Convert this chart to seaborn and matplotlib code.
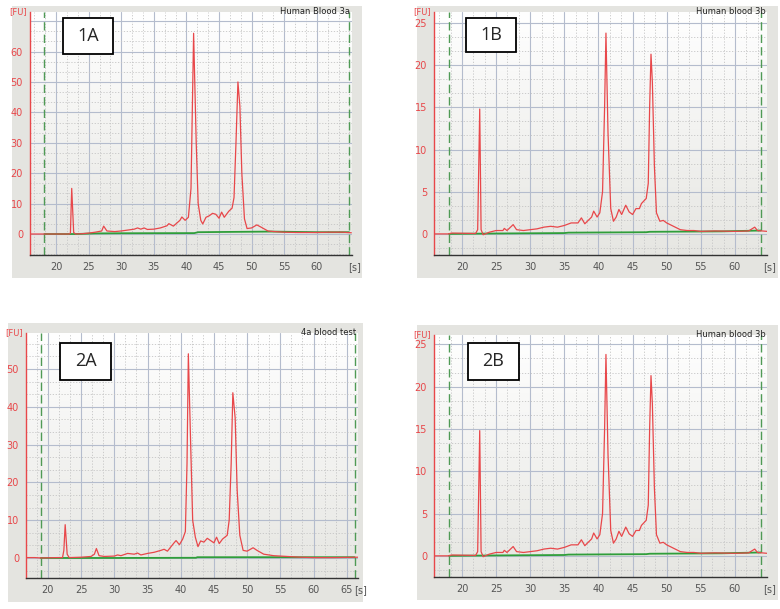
import numpy as np
import pandas as pd
import matplotlib
matplotlib.use("Agg")
import matplotlib.pyplot as plt
from matplotlib.patches import Rectangle
from matplotlib.ticker import MultipleLocator
import seaborn as sns

# ---- data ----
# 1A  (Human Blood 3a)
time_1a = [16.0, 18, 20, 22, 22.2, 22.4, 22.7, 23.0, 24, 25, 26, 27, 27.3, 27.8, 29, 30, 31, 32,
           32.5, 33, 33.5, 34, 35, 36, 37, 37.3, 38, 39, 39.3, 39.8, 40.3, 40.7, 41.1, 41.5, 41.8,
           42.2, 42.5, 43, 43.5, 44, 44.5, 45, 45.4, 45.8, 46.5, 47, 47.3, 47.6, 47.9, 48.2, 48.5,
           48.9, 49.3, 50, 50.8, 51.5, 52.5, 53.5, 55, 57, 60, 62, 64, 65.3]
fu_1a = [0.0, 0.0, 0.0, 0.0, 0.3, 15.0, 0.5, 0.0, 0.1, 0.3, 0.6, 1.0, 2.6, 1.0, 0.8, 1.0, 1.3, 1.6,
         2.0, 1.6, 2.0, 1.5, 1.6, 2.0, 2.7, 3.4, 2.6, 4.5, 5.6, 4.5, 5.5, 15.0, 66.0, 30.0, 10.0,
         4.5, 3.3, 5.5, 6.0, 6.8, 6.5, 5.2, 7.2, 5.5, 7.5, 8.5, 12.0, 30.0, 50.0, 42.0, 20.0,
         5.0, 1.8, 2.0, 3.0, 2.2, 1.0, 0.8, 0.6, 0.5, 0.5, 0.6, 0.6, 0.4]
base_t_1a = [18.2, 23, 26, 30, 41.2, 41.8, 47, 53, 60, 64.9]
base_1a = [0.0, 0.0, 0.2, 0.25, 0.3, 0.6, 0.7, 0.8, 0.6, 0.6]

# 1B / 2B  (Human blood 3b)
time_3b = [15.9, 18, 18.5, 22, 22.3, 22.6, 22.8, 23.1, 24, 25, 26, 26.2, 26.6, 27.5, 28, 29, 30,
           31, 32, 33, 34, 35, 36, 37, 37.5, 38, 39, 39.3, 39.8, 40.2, 40.6, 40.9, 41.1, 41.4,
           41.8, 42.2, 42.6, 43, 43.4, 44, 44.5, 45, 45.5, 46, 46.3, 47, 47.3, 47.5, 47.7, 47.9,
           48.2, 48.5, 49, 49.5, 50, 51, 52, 53, 54, 55, 57, 60, 62, 62.9, 63.3, 64.7]
fu_3b = [0.0, 0.0, 0.1, 0.05, 0.5, 14.8, 0.5, -0.1, 0.2, 0.4, 0.4, 0.65, 0.4, 1.1, 0.5, 0.4, 0.5,
         0.6, 0.8, 0.9, 0.8, 1.0, 1.3, 1.3, 1.9, 1.2, 2.0, 2.7, 2.0, 2.5, 5.0, 15.0, 23.8, 12.0,
         3.0, 1.5, 2.0, 2.9, 2.3, 3.4, 2.6, 2.3, 3.0, 3.0, 3.6, 4.2, 6.0, 15.0, 21.3, 18.0,
         8.0, 2.5, 1.5, 1.6, 1.3, 0.9, 0.5, 0.4, 0.4, 0.3, 0.35, 0.3, 0.35, 0.8, 0.4, 0.3]
base_t_3b = [18.1, 25, 35, 35.6, 47, 47.5, 58, 63.8]
base_3b = [0.0, 0.05, 0.1, 0.15, 0.2, 0.25, 0.3, 0.4]

# 2A  (4a blood test)
time_2a = [16.7, 18, 19, 21.5, 22.2, 22.4, 22.6, 22.9, 23.2, 25, 26.5, 27.0, 27.3, 27.7, 28.5, 30,
           30.5, 31, 32, 33, 33.5, 34, 35, 36, 37, 37.5, 38, 39, 39.3, 39.8, 40.3, 40.7, 40.95,
           41.15, 41.5, 41.8, 42.2, 42.6, 43, 43.5, 44, 44.5, 45, 45.4, 45.8, 46.3, 47, 47.3,
           47.6, 47.85, 48.2, 48.5, 48.9, 49.4, 50, 50.9, 51.5, 52.5, 54, 56, 58, 60, 63, 66.7]
fu_2a = [0.1, 0.1, 0.0, 0.1, 0.1, 2.0, 8.8, 1.0, 0.1, 0.2, 0.4, 1.0, 2.5, 0.6, 0.4, 0.5,
         0.8, 0.6, 1.2, 1.0, 1.3, 0.8, 1.2, 1.5, 2.0, 2.3, 1.8, 4.0, 4.6, 3.5, 5.0, 7.0, 25.0,
         54.0, 30.0, 10.0, 5.5, 3.0, 4.5, 4.2, 5.2, 4.6, 4.0, 5.5, 3.8, 5.0, 6.0, 10.0,
         25.0, 43.7, 37.0, 18.0, 6.0, 2.0, 1.8, 2.7, 2.0, 1.0, 0.6, 0.4, 0.2, 0.1, 0.1, 0.2]
base_t_2a = [18.9, 30, 42.3, 42.5, 55, 66.2]
base_2a = [0.0, 0.0, 0.05, 0.2, 0.2, 0.2]

# y tick labels shown on each panel
yticks_1a = [0, 10, 20, 30, 40, 50, 60]
yticks_3b = [0, 5, 10, 15, 20, 25]
yticks_2a = [0, 10, 20, 30, 40, 50]

panels = [
    dict(tag="1A", name="Human Blood 3a", t=time_1a, fu=fu_1a, bt=base_t_1a, b=base_1a,
         xlim=(16.0, 65.4), ylim=(-6.9, 73), ystep=10, yt=yticks_1a, xmax_tick=60,
         markers=(18.2, 64.9)),
    dict(tag="1B", name="Human blood 3b", t=time_3b, fu=fu_3b, bt=base_t_3b, b=base_3b,
         xlim=(15.9, 64.7), ylim=(-2.5, 26.3), ystep=5, yt=yticks_3b, xmax_tick=60,
         markers=(18.1, 63.8)),
    dict(tag="2A", name="4a blood test", t=time_2a, fu=fu_2a, bt=base_t_2a, b=base_2a,
         xlim=(16.7, 66.7), ylim=(-5.3, 59.5), ystep=10, yt=yticks_2a, xmax_tick=65,
         markers=(18.9, 66.2)),
    dict(tag="2B", name="Human blood 3b", t=time_3b, fu=fu_3b, bt=base_t_3b, b=base_3b,
         xlim=(15.9, 64.7), ylim=(-2.5, 26.1), ystep=5, yt=yticks_3b, xmax_tick=60,
         markers=(18.1, 63.8)),
]

# ---- layout (pixel boxes in the 780x609 figure) ----
W, H = 780, 609
axes_px = [(30, 12, 352, 255), (434, 12, 767, 255), (26, 333, 358, 578), (434, 335, 767, 577)]
panel_px = [(12, 6, 362, 278), (417, 6, 778, 278), (8, 323, 363, 602), (417, 325, 778, 600)]
label_px = [(63, 18, 113, 54), (466, 18, 516, 52), (60, 343, 111, 380), (468, 343, 519, 380)]

RED = "#e8474a"
GREEN = "#2f9e3a"
GRID = "#b4bccd"

sns.set_style("white")
plt.rcParams["font.family"] = ["DejaVu Sans"]

fig = plt.figure(figsize=(W / 100, H / 100), dpi=100)
fig.patch.set_facecolor("white")


def fig_rect(px):
    x0, y0, x1, y1 = px
    return (x0 / W, 1 - y1 / H, (x1 - x0) / W, (y1 - y0) / H)


cmap = matplotlib.colors.LinearSegmentedColormap.from_list("g", ["#ffffff", "#e6e6e2"])

for p, apx, ppx, lpx in zip(panels, axes_px, panel_px, label_px):
    # grey instrument panel behind each plot
    fig.add_artist(Rectangle(fig_rect(ppx)[:2], *fig_rect(ppx)[2:], transform=fig.transFigure,
                             facecolor="#e4e4e0", edgecolor="none", zorder=0))
    ax = fig.add_axes(fig_rect(apx))
    ax.set_xlim(*p["xlim"])
    ax.set_ylim(*p["ylim"])

    # white-to-grey gradient background
    grad = np.linspace(0, 1, 256).reshape(-1, 1)
    ax.imshow(grad, extent=[*p["xlim"], *p["ylim"]], aspect="auto", origin="upper",
              cmap=cmap, zorder=0)

    ax.xaxis.set_minor_locator(MultipleLocator(5 / 3))
    ax.yaxis.set_minor_locator(MultipleLocator(p["ystep"] / 3))

    xt = np.arange(20, p["xmax_tick"] + 1, 5)
    ax.set_xticks(xt)
    ax.set_xticklabels([str(v) for v in xt])
    # tick marks continue to the top, labels only where the instrument printed them
    ymarks = np.arange(0, p["ylim"][1], p["ystep"])
    ax.set_yticks(ymarks)
    ax.set_yticklabels([str(int(v)) if v in p["yt"] else "" for v in ymarks])

    ax.grid(which="major", color=GRID, lw=0.8, zorder=1)
    ax.grid(which="minor", color="#c4c4c4", lw=0.6, ls=(0, (1.5, 2)), zorder=1)
    ax.set_axisbelow(True)

    ax.tick_params(axis="x", which="major", colors="#444444", labelsize=7, length=3, width=0.8,
                   labelcolor="#555555", pad=2)
    ax.tick_params(axis="y", which="major", colors=RED, labelsize=7, length=3, width=0.8,
                   labelcolor=RED, pad=2)
    ax.tick_params(which="minor", length=0)

    for s in ["top", "right"]:
        ax.spines[s].set_visible(False)
    ax.spines["left"].set_color(RED)
    ax.spines["left"].set_linewidth(1.0)
    ax.spines["bottom"].set_color("#333333")
    ax.spines["bottom"].set_linewidth(1.0)

    for m in p["markers"]:
        ax.axvline(m, color="#4f9a55", lw=1.0, ls=(0, (6, 3)), zorder=2)

    trace = pd.DataFrame({"t": p["t"], "fu": p["fu"]})
    base = pd.DataFrame({"t": p["bt"], "fu": p["b"]})
    sns.lineplot(data=base, x="t", y="fu", ax=ax, color=GREEN, lw=1.3, estimator=None, zorder=3)
    sns.lineplot(data=trace, x="t", y="fu", ax=ax, color=RED, lw=0.9, estimator=None, zorder=4)
    ax.set_xlabel("")
    ax.set_ylabel("")

    ax.text(0.995, 1.0, p["name"], transform=ax.transAxes, ha="right", va="center",
            fontsize=6, color="#222222", zorder=6)
    ax.annotate("[FU]", xy=(0, 1), xycoords="axes fraction", xytext=(-2, 0),
                textcoords="offset points", ha="right", va="center", fontsize=6, color=RED)
    ax.annotate("[s]", xy=(1, 0), xycoords="axes fraction", xytext=(2, -9),
                textcoords="offset points", ha="center", va="center", fontsize=7,
                color="#555555", annotation_clip=False)

    # sample tag box
    r = fig_rect(lpx)
    fig.add_artist(Rectangle(r[:2], *r[2:], transform=fig.transFigure, facecolor="white",
                             edgecolor="black", lw=1.3, zorder=10))
    fig.text(r[0] + r[2] / 2, r[1] + r[3] / 2, p["tag"], ha="center", va="center",
             fontsize=13, family="Open Sans", zorder=11)

fig.savefig("out.png", dpi=100)
